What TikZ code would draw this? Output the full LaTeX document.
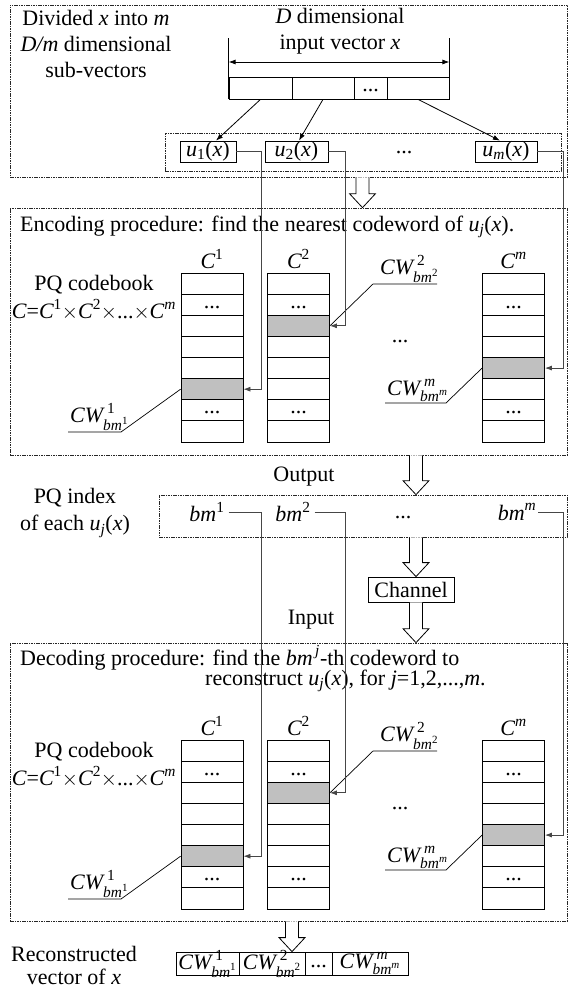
\documentclass[tikz,border=0pt]{standalone}
\usepackage{amsmath}
\usepackage{fontspec}
\setmainfont{Liberation Serif}
\usetikzlibrary{arrows.meta,calc}

% italic / upright text inside formulas
\newcommand\vv[1]{\text{\itshape #1}}
\newcommand\nn[1]{\text{#1}}
\newcommand\ux[1]{\vv{u}_{#1}\nn{(}\vv{x}\nn{)}}
\newcommand\cwlab[1]{\vv{CW}^{\kern4pt #1}_{\vv{bm}^{#1}}}

\definecolor{cbgray}{RGB}{192,192,192}
\definecolor{wire}{RGB}{70,70,70}

% hollow block arrow pointing down: #1 start point, #2 tip point
\newcommand\hollowdown[2]{%
  \draw[hollow] let \p1=#1, \p2=#2 in
    (\x1-6.5pt,\y1) -- (\x1-6.5pt,\y2+14pt) -- (\x1-13pt,\y2+14pt) --
    (\x1,\y2) -- (\x1+13pt,\y2+14pt) -- (\x1+6.5pt,\y2+14pt) -- (\x1+6.5pt,\y1);}

\tikzset{
  every node/.style={font=\fontsize{22}{26}\selectfont, inner sep=0pt},
  frame/.style={draw=black!85, line width=0.7pt, dash pattern=on 1.6pt off 0.8pt},
  box/.style={draw, line width=0.8pt},
  cell/.style={box, minimum width=62pt, minimum height=21.125pt},
  graycell/.style={cell, fill=cbgray},
  tip/.style={-{Latex[length=7pt,width=5pt]}},
  conn/.style={wire, line width=0.8pt, tip},
  lead/.style={black, line width=0.7pt},
  hollow/.style={draw, fill=white, line width=0.8pt, line join=miter},
}

\begin{document}
\begin{tikzpicture}[x=1pt,y=-1pt]
\useasboundingbox (0,0) rectangle (568,988);

% ---------- frames ----------
\node[frame, minimum width=557.6pt, minimum height=172pt] (sec1) at (288.8,91) {};
\node[frame, minimum width=557.6pt, minimum height=247pt] (sec2) at (288.8,331.5) {};
\node[frame, minimum width=408pt, minimum height=42pt] (pq) at (363,516) {};
\node[frame, minimum width=557.6pt, minimum height=278pt] (sec3) at (288.8,782) {};

% ---------- split of the input vector ----------
\node[align=center] (intro) at (96,44) {Divided \textit{x} into \textit{m}\\\textit{D/m} dimensional\\sub-vectors};
\node[align=center] (dlab) at (340,31) {\textit{D} dimensional\\input vector \textit{x}};

\node[box, minimum width=63pt, minimum height=22pt] (vc1) at (260.5,88) {};
\node[box, minimum width=62pt, minimum height=22pt] (vc2) at (323,88) {};
\node[box, minimum width=33pt, minimum height=22pt] (vc3) at (370.5,88) {};
\node[box, minimum width=62pt, minimum height=22pt] (vc4) at (418,88) {};
\node (vc3d) at ([yshift=-3pt]vc3.center) {...};

\coordinate (dimtop) at (0,38);
\coordinate (dimy) at (0,62);
\draw[line width=0.8pt] (vc1.south west) -- (vc1.south west |- dimtop);
\draw[line width=0.8pt] (vc4.south east) -- (vc4.south east |- dimtop);
\draw[line width=0.8pt, {Latex[length=7pt,width=5pt]}-{Latex[length=7pt,width=5pt]}]
  (vc1.west |- dimy) -- (vc4.east |- dimy);

\node[frame, minimum width=396pt, minimum height=38pt] (ubox) at (363,152) {};
\node[box, minimum width=56pt, minimum height=21pt] (u1) at (208,151.5) {$\ux{\nn{1}}$};
\node[box, minimum width=63pt, minimum height=21pt] (u2) at (296.5,151.5) {$\ux{\nn{2}}$};
\node[box, minimum width=62pt, minimum height=21pt] (um) at (506,151.5) {$\ux{\vv{m}}$};
\node (ud) at (404,153) {...};

\draw[line width=0.8pt, tip] (vc1.south) -- ([xshift=8pt]u1.north);
\draw[line width=0.8pt, tip] (vc2.south) -- ([xshift=2.5pt]u2.north);
\draw[line width=0.8pt, tip] (vc4.south) -- ([xshift=-6pt]um.north);

% ---------- codebooks (a: encoding, b: decoding) ----------
\foreach \s/\top in {a/273,b/740}{
  \foreach \c/\cx in {1/212,2/298.5,m/513.5}{
    \foreach \r in {0,...,7}{
      \node[cell] (\s\c\r) at (\cx,{\top+10.5625+\r*21.125}) {};
    }
    \node (\s\c d1) at ([yshift=-2.5pt]\s\c1.center) {...};
    \node (\s\c d6) at ([yshift=-2.5pt]\s\c6.center) {...};
  }
  \node[graycell] (\s1g) at (\s15.center) {};
  \node[graycell] (\s2g) at (\s22.center) {};
  \node[graycell] (\s mg) at (\s m4.center) {};
  \node[anchor=south] (\s1lab) at ([yshift=4pt]\s10.north) {$\vv{C}^{\nn{1}}$};
  \node[anchor=south] (\s2lab) at ([yshift=4pt]\s20.north) {$\vv{C}^{\nn{2}}$};
  \node[anchor=south] (\s mlab) at ([yshift=4pt]\s m0.north) {$\vv{C}^{\vv{m}}$};
  \node (\s pqc) at (94,{\top+12}) {PQ codebook};
  \node (\s cdef) at (94,{\top+37}) {$\vv{C}\nn{=}\vv{C}^{\nn{1}}\mathord{\times}\vv{C}^{\nn{2}}\mathord{\times}\nn{...}\mathord{\times}\vv{C}^{\vv{m}}$};
  \node (\s cdots) at (400,{\top+69}) {...};
}

% encoding labels and leaders
\node (enc) [anchor=west] at (20,227) {Encoding procedure: find the nearest codeword of $\ux{\vv{j}}$.};
\node[anchor=south west] (acw2) at (380,283) {$\cwlab{\nn{2}}$};
\node[anchor=south west] (acwm) at (387,402) {$\cwlab{\vv{m}}$};
\node[anchor=south west] (acw1) at (70,431) {$\cwlab{\nn{1}}$};
\coordinate (acw2r) at (437,284); \coordinate (acw2l) at (373,284);
\coordinate (acwmr) at (446,403); \coordinate (acwml) at (385,403);
\coordinate (acw1r) at (121,432); \coordinate (acw1l) at (68,432);
\draw[lead] (acw2r) -- (acw2l) -- (a2g.east);
\draw[lead] (acwml) -- (acwmr) -- (amg.west);
\draw[lead] (acw1l) -- (acw1r) -- (a1g.west);

% sub-vectors to their nearest codewords
\coordinate (v1) at (261,0);
\coordinate (v2) at (345,0);
\coordinate (vm) at (563,0);
\draw[conn] (u1.east) -| (v1 |- a1g.east) -- (a1g.east);
\draw[conn] (u2.east) -| (v2 |- a2g.east) -- (a2g.east);
\draw[conn] (um.east) -| (vm |- amg.east) -- (amg.east);

% ---------- index transmission ----------
\node (outlab) at (304,477) {Output};
\node[align=center, font=\fontsize{22}{27}\selectfont] (pqidx) at (75,513) {PQ index\\of each $\ux{\vv{j}}$};
\node (bm1) at (207,512) {$\vv{bm}^{\nn{1}}$};
\node (bm2) at (293,512) {$\vv{bm}^{\nn{2}}$};
\node (bmd) at (403,518) {...};
\node (bmm) at (517,512) {$\vv{bm}^{\vv{m}}$};
\node[box, minimum width=86pt, minimum height=25pt] (chan) at (411,589.5) {Channel};
\node (inlab) at (311,620) {Input};

% ---------- decoding ----------
\node[anchor=west] (dec1) at (20,658) {Decoding procedure: find the $\vv{bm}^{\,\vv{j}}$-th codeword to};
\node[anchor=west] (dec2) at (205,681) {reconstruct $\ux{\vv{j}}$, for \textit{j}=1,2,...,\textit{m}.};
\node[anchor=south west] (bcw2) at (380,750) {$\cwlab{\nn{2}}$};
\node[anchor=south west] (bcwm) at (387,869) {$\cwlab{\vv{m}}$};
\node[anchor=south west] (bcw1) at (70,898) {$\cwlab{\nn{1}}$};
\coordinate (bcw2r) at (437,751); \coordinate (bcw2l) at (373,751);
\coordinate (bcwmr) at (446,870); \coordinate (bcwml) at (385,870);
\coordinate (bcw1r) at (121,899); \coordinate (bcw1l) at (68,899);
\draw[lead] (bcw2r) -- (bcw2l) -- (b2g.east);
\draw[lead] (bcwml) -- (bcwmr) -- (bmg.west);
\draw[lead] (bcw1l) -- (bcw1r) -- (b1g.west);

\draw[conn] ([xshift=4pt]bm1.east) -| (v1 |- b1g.east) -- (b1g.east);
\draw[conn] ([xshift=4pt]bm2.east) -| (v2 |- b2g.east) -- (b2g.east);
\draw[conn] ([xshift=2pt]bmm.east) -| (vm |- bmg.east) -- (bmg.east);

% ---------- reconstructed vector ----------
\node[align=center, font=\fontsize{22}{23}\selectfont] (reclab) at (74,965) {Reconstructed\\vector of \textit{x}};
\node[box, minimum width=63pt, minimum height=23pt] (r1) at (207.5,963.5) {};
\node[box, minimum width=66pt, minimum height=23pt] (r2) at (272,963.5) {};
\node[box, minimum width=27pt, minimum height=23pt] (r3) at (318.5,963.5) {};
\node[box, minimum width=76pt, minimum height=23pt] (r4) at (370,963.5) {};
\node (r1t) at (r1.center) {$\cwlab{\nn{1}}$};
\node (r2t) at (r2.center) {$\cwlab{\nn{2}}$};
\node (r3t) at ([yshift=-3pt]r3.center) {...};
\node (r4t) at (r4.center) {$\cwlab{\vv{m}}$};

% ---------- block arrows between stages ----------
\coordinate (ha1) at (362.5,0);
\coordinate (ha2) at (416,0);
\coordinate (ha3) at (292,0);
\hollowdown{(ha1 |- sec1.south)}{(ha1 |- sec2.north)}
\hollowdown{(ha2 |- sec2.south)}{(ha2 |- pq.north)}
\hollowdown{(ha2 |- pq.south)}{(ha2 |- chan.north)}
\hollowdown{(ha2 |- chan.south)}{(ha2 |- sec3.north)}
\hollowdown{(ha3 |- sec3.south)}{(ha3 |- r2.north)}
\end{tikzpicture}
\end{document}
